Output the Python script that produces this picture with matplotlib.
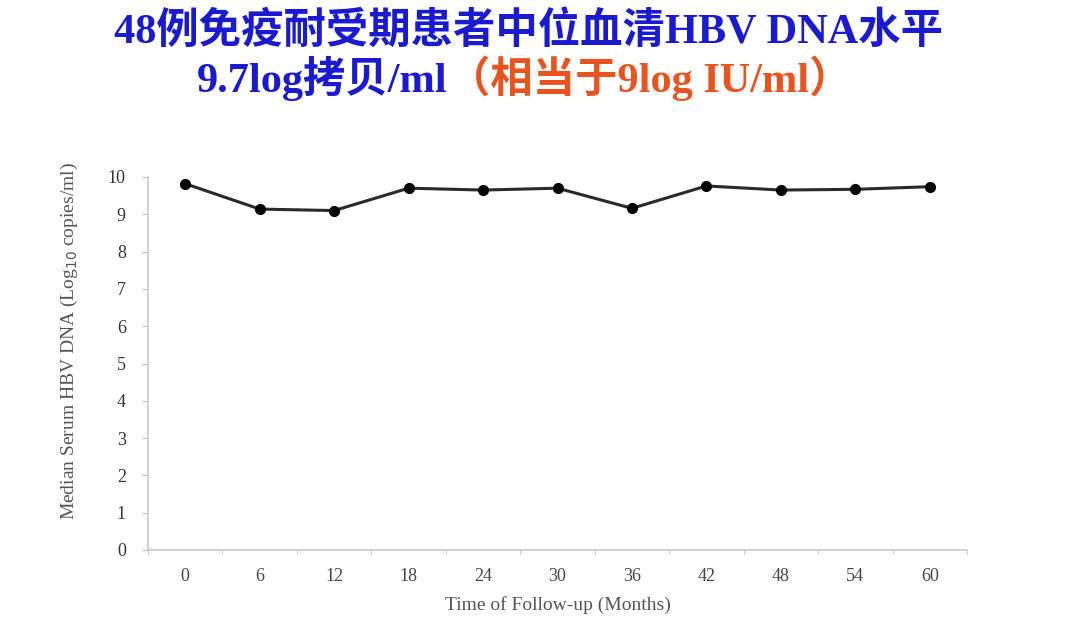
import matplotlib.pyplot as plt
from matplotlib.ticker import FixedLocator

plt.rcParams['font.family'] = ['Liberation Serif', 'Noto Sans CJK SC']

# data
months = ['0', '6', '12', '18', '24', '30', '36', '42', '48', '54', '60']
median_dna = [9.82, 9.14, 9.10, 9.70, 9.65, 9.70, 9.16, 9.76, 9.65, 9.67, 9.74]
y_ticks = [0, 1, 2, 3, 4, 5, 6, 7, 8, 9, 10]

title_line1 = '48例免疫耐受期患者中位血清HBV DNA水平'
title_blue = '9.7log拷贝/ml'
title_orange = '（相当于9log IU/ml）'

fig = plt.figure(figsize=(10.71, 6.21), dpi=100)
ax = fig.add_axes([148 / 1071, 71 / 621, 819 / 1071, 373 / 621])

x = list(range(len(months)))
ax.plot(x, median_dna, color='#2a2a2a', lw=2.2, marker='o', ms=7,
        markerfacecolor='black', markeredgecolor='black', zorder=3)

ax.set_xlim(-0.5, len(months) - 0.5)
ax.set_ylim(0, 10)
ax.set_xticks(x)
ax.set_xticklabels(months)
# excel-style ticks between categories
ax.xaxis.set_minor_locator(FixedLocator([i + 0.5 for i in range(-1, len(months))]))
ax.tick_params(axis='x', which='major', length=0, pad=13, labelsize=13, labelcolor='#444444')
ax.tick_params(axis='x', which='minor', length=3, color='#bbbbbb', direction='out')
ax.set_yticks(y_ticks)
ax.tick_params(axis='y', length=4, color='#bbbbbb', pad=12, labelsize=13, labelcolor='#333333')

for s in ['top', 'right']:
    ax.spines[s].set_visible(False)
for s in ['left', 'bottom']:
    ax.spines[s].set_color('#c8c8c8')
    ax.spines[s].set_linewidth(1.2)

ax.set_ylabel('Median Serum HBV DNA (Log$_{10}$ copies/ml)', fontsize=14, color='#555555')
ax.yaxis.set_label_coords(-0.083, 0.56)
ax.set_xlabel('Time of Follow-up (Months)', fontsize=14, color='#555555', labelpad=8)

fig.text(528 / 1071, 1 - 31 / 621, title_line1, ha='center', va='center',
         fontsize=30.5, fontweight='bold', color='#1a1ad0')
t1 = fig.text(197 / 1071, 1 - 78 / 621, title_blue, ha='left', va='center',
              fontsize=30.5, fontweight='bold', color='#1a1ad0')
ax.annotate(title_orange, xy=(1, 0.5), xycoords=t1, ha='left', va='center',
            fontsize=30.5, fontweight='bold', color='#e8531e', annotation_clip=False)

fig.savefig('out.png', dpi=100)
